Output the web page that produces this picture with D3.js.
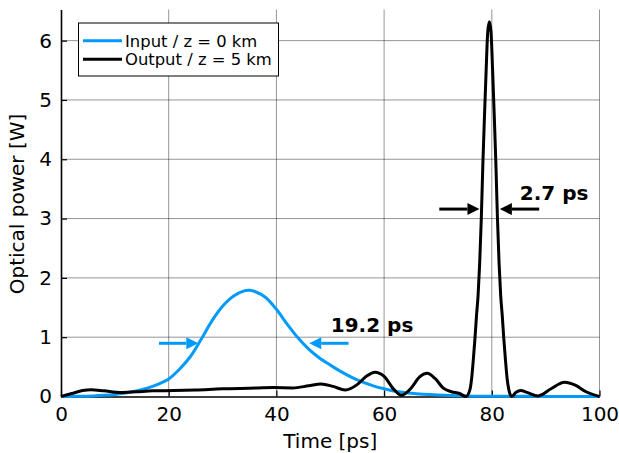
<!DOCTYPE html>
<html>
<head>
<meta charset="utf-8">
<script src="https://cdn.jsdelivr.net/npm/d3@7"></script>
<style>
  body { margin: 0; background: #fff; }
  svg { display: block; font-family: "DejaVu Sans", sans-serif; }
</style>
</head>
<body>
<script>
// size
const width = 619;
const height = 453;
const margin = { top: 9.5, right: 19.5, bottom: 56.5, left: 61 };

// input pulse, z = 0 km
const inT = [0, 3, 6, 8, 10, 12, 14.4, 17, 19.3, 20, 22, 24, 26, 28, 30, 32, 34, 35, 36, 38, 40, 42, 44, 46, 48, 50, 52, 55, 58, 60, 62, 65, 70, 75, 80, 90, 100];
const inP = [0.0, 0.003, 0.01, 0.02, 0.035, 0.06, 0.1, 0.17, 0.26, 0.295, 0.46, 0.67, 0.96, 1.27, 1.52, 1.69, 1.78, 1.79, 1.77, 1.67, 1.47, 1.22, 0.99, 0.80, 0.65, 0.53, 0.42, 0.28, 0.18, 0.13, 0.09, 0.055, 0.025, 0.01, 0.005, 0.002, 0.0];

// output pulse, z = 5 km
const outT = [0, 2, 4, 5.6, 8, 11, 14, 17, 21, 25, 30, 35, 39.5, 43, 46, 48.3, 50.5, 52.8, 55, 56.7, 58.3, 60, 61.8, 63.2, 65, 66.6, 68, 69.5, 71, 72.5, 74, 75.2,
  75.95, 76.25, 76.55, 76.85, 77.15, 77.45, 77.75, 78.05, 78.35, 78.65, 78.95, 79.25, 79.55, 79.85, 80.15, 80.45, 80.75, 81.05, 81.35, 81.65, 81.95, 82.25, 82.55, 82.85, 83.15,
  83.7, 84.5, 85.4, 86.5, 88.6, 91, 93.5, 95.5, 97.5, 100];
const outP = [0.0, 0.05, 0.1, 0.115, 0.095, 0.068, 0.08, 0.095, 0.10, 0.11, 0.13, 0.14, 0.15, 0.145, 0.18, 0.21, 0.17, 0.11, 0.2, 0.34, 0.41, 0.34, 0.12, 0.02, 0.14, 0.33, 0.39, 0.3, 0.14, 0.08, 0.05, 0.0,
  0.12, 0.3, 0.6, 0.95, 1.35, 1.7, 2.25, 3.0, 3.95, 4.75, 5.5, 6.15, 6.32, 6.15, 5.5, 4.75, 3.95, 3.0, 2.25, 1.7, 1.35, 0.95, 0.6, 0.3, 0.12,
  0.0, 0.07, 0.1, 0.07, 0.01, 0.13, 0.24, 0.19, 0.08, 0.0];

const seriesNames = ["Input / z = 0 km", "Output / z = 5 km"];
const seriesColors = ["#009AFA", "#000000"];

const xTicks = [0, 20, 40, 60, 80, 100];
const yTicks = [0, 1, 2, 3, 4, 5, 6];

// FWHM arrows
const arrowTail = [18.2, 53.4, 70.25, 88.8];
const arrowTip = [25.5, 46.1, 77.7, 81.5];
const arrowLevel = [0.897, 0.897, 3.16, 3.16];
const arrowSeries = [0, 0, 1, 1];

const fwhmText = ["19.2 ps", "2.7 ps"];
const fwhmT = [50.1, 85.2];
const fwhmP = [1.09, 3.31];

const svg = d3.select("body").append("svg")
  .attr("width", width).attr("height", height);

const x = d3.scaleLinear().domain([0, 100]).range([margin.left, width - margin.right]);
const y = d3.scaleLinear().domain([0, 6.525]).range([height - margin.bottom, margin.top]);

// grid
svg.append("g").selectAll("line").data(yTicks.filter(d => d > 0)).enter().append("line")
  .attr("x1", x(0)).attr("x2", x(100)).attr("y1", d => y(d)).attr("y2", d => y(d))
  .attr("stroke", "#000").attr("stroke-opacity", 0.42).attr("stroke-width", 1);
svg.append("g").selectAll("line").data(xTicks.filter(d => d > 0)).enter().append("line")
  .attr("y1", y(0)).attr("y2", y.range()[1]).attr("x1", d => x(d)).attr("x2", d => x(d))
  .attr("stroke", "#000").attr("stroke-opacity", 0.42).attr("stroke-width", 1);

// axes
const xAxis = svg.append("g")
  .attr("transform", `translate(0, ${y(0)})`)
  .call(d3.axisBottom(x).tickValues(xTicks).tickFormat(d3.format("d"))
    .tickSize(-6).tickSizeOuter(0).tickPadding(10));
const yAxis = svg.append("g")
  .attr("transform", `translate(${x(0)}, 0)`)
  .call(d3.axisLeft(y).tickValues(yTicks).tickFormat(d3.format("d"))
    .tickSize(-6).tickSizeOuter(0).tickPadding(9));
[xAxis, yAxis].forEach(g => {
  g.select(".domain").attr("stroke", "#000").attr("stroke-width", 1.6);
  g.selectAll(".tick line").attr("stroke", "#000").attr("stroke-width", 1.2);
  g.selectAll(".tick text").attr("font-size", 20).attr("fill", "#000")
    .attr("font-family", "DejaVu Sans");
});

// axis labels
svg.append("text")
  .attr("x", (x(0) + x(100)) / 2).attr("y", 447.5)
  .attr("text-anchor", "middle").attr("font-size", 20)
  .text("Time [ps]");
svg.append("text")
  .attr("transform", `translate(24, 204) rotate(-90)`)
  .attr("text-anchor", "middle").attr("font-size", 20)
  .text("Optical power [W]");

// curves: smooth spline for the input, monotone for the ripply output
const curves = [d3.curveCatmullRom.alpha(0.5), d3.curveMonotoneX];
const series = [d3.zip(inT, inP), d3.zip(outT, outP)];
svg.append("g").selectAll("path").data(series).enter().append("path")
  .attr("d", (d, i) => d3.line().x(p => x(p[0])).y(p => y(p[1])).curve(curves[i])(d))
  .attr("fill", "none")
  .attr("stroke", (d, i) => seriesColors[i])
  .attr("stroke-width", 3)
  .attr("stroke-linejoin", "round");

// arrows
const headLen = 12, headHalf = 6;
const ag = svg.append("g");
arrowTail.forEach((t0, i) => {
  const x0 = x(t0), x1 = x(arrowTip[i]), yy = y(arrowLevel[i]);
  const dir = Math.sign(x1 - x0);
  const col = seriesColors[arrowSeries[i]];
  ag.append("line")
    .attr("x1", x0).attr("x2", x1 - dir * headLen).attr("y1", yy).attr("y2", yy)
    .attr("stroke", col).attr("stroke-width", 3);
  ag.append("path")
    .attr("d", `M${x1},${yy}L${x1 - dir * headLen},${yy - headHalf}L${x1 - dir * headLen},${yy + headHalf}Z`)
    .attr("fill", col);
});

svg.append("g").selectAll("text").data(fwhmText).enter().append("text")
  .attr("x", (d, i) => x(fwhmT[i])).attr("y", (d, i) => y(fwhmP[i]))
  .attr("font-size", 20).attr("font-weight", "bold")
  .text(d => d);

// legend
const lg = svg.append("g");
lg.append("rect")
  .attr("x", 78.5).attr("y", 23).attr("width", 200).attr("height", 53)
  .attr("fill", "#fff").attr("stroke", "#000").attr("stroke-width", 1);
seriesNames.forEach((name, i) => {
  const ly = 40.7 + i * 18.6;
  lg.append("line").attr("x1", 83).attr("x2", 122).attr("y1", ly).attr("y2", ly)
    .attr("stroke", seriesColors[i]).attr("stroke-width", 3);
  lg.append("text").attr("x", 125).attr("y", ly + 5.8)
    .attr("font-size", 16.4).text(name);
});
</script>
</body>
</html>
